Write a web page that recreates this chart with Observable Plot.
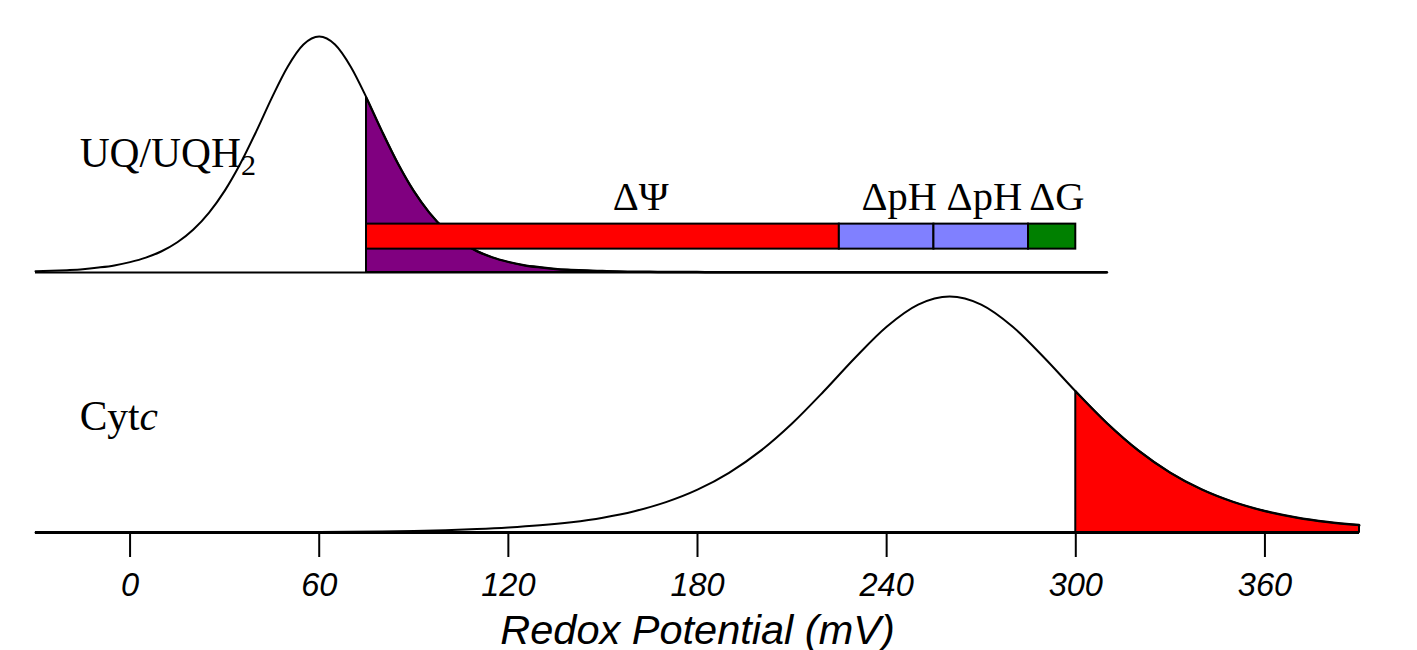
<!DOCTYPE html>
<html>
<head>
<meta charset="utf-8">
<script src="https://cdn.jsdelivr.net/npm/d3@7"></script>
<script src="https://cdn.jsdelivr.net/npm/@observablehq/plot@0.6"></script>
<style>
  html, body { margin: 0; padding: 0; background: #ffffff; }
  #chart svg { display: block; overflow: visible; }
</style>
</head>
<body>
<div id="chart"></div>
<script>
// ---- data ----
const panels = ["UQ", "Cyt"];
const panelLabelMain = ["UQ/UQH", "Cyt"];
const panelLabelTail = ["2", "c"];

// UQ/UQH2 redox distribution (relative height), potential in mV
const potentialsUQ = [-30,-25,-20,-15,-10,-5,0,5,10,15,20,25,30,35,40,45,50,55,60,65,70,75,80,85,90,95,100,105,110,115,120,125,130,135,140,145,150,155,160,165,170,175,180,185,190,200,220,240,260,280,300,310];
const fractionUQ   = [0.005,0.007,0.010,0.014,0.021,0.030,0.044,0.063,0.090,0.128,0.181,0.253,0.346,0.462,0.597,0.741,0.872,0.966,1.000,0.966,0.872,0.741,0.597,0.462,0.346,0.253,0.181,0.128,0.090,0.063,0.044,0.030,0.021,0.014,0.010,0.007,0.005,0.003,0.002,0.002,0.001,0.001,0.001,0,0,0,0,0,0,0,0,0];

// Cyt c redox distribution
const potentialsCyt = [-30,-20,-10,0,10,20,30,40,50,60,70,80,90,100,110,120,130,140,150,160,170,180,190,200,210,220,230,240,250,260,270,280,290,300,310,320,330,340,350,360,370,380,390];
const fractionCyt   = [0,0.0001,0.0002,0.0002,0.0003,0.0005,0.0007,0.0011,0.0015,0.0022,0.0032,0.0047,0.0068,0.0099,0.0144,0.0209,0.0303,0.0437,0.0629,0.0902,0.1285,0.1813,0.2527,0.3458,0.4619,0.5973,0.7406,0.8719,0.9657,1.000,0.9657,0.8719,0.7406,0.5973,0.4619,0.3458,0.2527,0.1813,0.1285,0.0902,0.0629,0.0437,0.0303];

// shaded tails start (mV) and baseline extents (mV)
const shadeFrom = [75, 300];
const baselineStart = [-30, -30];
const baselineEnd = [310, 390];

// energy bar segments (mV)
const segmentNames = ["ΔΨ", "ΔpH", "ΔpH", "ΔG"];
const segmentStart = [75, 225, 255, 285];
const segmentEnd   = [225, 255, 285, 300];
const segmentLabelAt = [162, 244, 271, 294];

const xTicks = [0, 60, 120, 180, 240, 300, 360];
const xTitle = "Redox Potential (mV)";

// ---- styles ----
const shadeColors = ["#800080", "#ff0000"];
const segmentColors = ["#ff0000", "#8080ff", "#8080ff", "#008000"];
const panelLabelY = [0.449, 0.434];
const barY1 = 0.099, barY2 = 0.205, barLabelY = 0.266;

// ---- tables ----
const curves = [
  ...potentialsUQ.map((x, i) => ({panel: "UQ", x, y: fractionUQ[i]})),
  ...potentialsCyt.map((x, i) => ({panel: "Cyt", x, y: fractionCyt[i]}))
];
const shades = panels.map((p, i) => curves.filter(d => d.panel === p && d.x >= shadeFrom[i]));
const baselines = panels.map((p, i) => ({panel: p, x1: baselineStart[i], x2: baselineEnd[i], w: i === 0 ? 2 : 3}));
const segments = segmentNames.map((name, i) => ({panel: "UQ", name, x1: segmentStart[i], x2: segmentEnd[i], at: segmentLabelAt[i], color: segmentColors[i]}));
const panelLabels = panels.map((p, i) => ({panel: p, text: panelLabelMain[i], y: panelLabelY[i]}));

const serif = "'Liberation Serif', 'Times New Roman', serif";
const sans = "'Liberation Sans', Arial, sans-serif";

const chart = Plot.plot({
  width: 1417,
  height: 650,
  marginTop: 36,
  marginBottom: 118,
  marginLeft: 35,
  marginRight: 58,
  x: {domain: [-30, 390]},
  y: {domain: [0, 1], axis: null},
  fy: {domain: panels, axis: null, paddingInner: 0.0923, paddingOuter: 0, round: false, label: null},
  color: {type: "identity"},
  marks: [
    Plot.areaY(shades[0], {x: "x", y: "y", fy: "panel", fill: shadeColors[0], stroke: "black", strokeWidth: 2, curve: "monotone-x"}),
    Plot.areaY(shades[1], {x: "x", y: "y", fy: "panel", fill: shadeColors[1], stroke: "black", strokeWidth: 2, curve: "monotone-x"}),
    Plot.line(curves, {x: "x", y: "y", z: "panel", fy: "panel", stroke: "black", strokeWidth: 2, curve: "monotone-x"}),
    Plot.ruleY(baselines, {y: 0, x1: "x1", x2: "x2", fy: "panel", stroke: "black", strokeWidth: "w"}),
    Plot.rectX(segments, {x1: "x1", x2: "x2", y1: barY1, y2: barY2, fy: "panel", fill: "color", stroke: "black", strokeWidth: 2}),
    Plot.text(segments, {x: "at", y: barLabelY, text: "name", fy: "panel", lineAnchor: "bottom", fontSize: 40.5, fontFamily: serif, fill: "black"}),
    Plot.text(panelLabels, {x: -16, y: "y", text: "text", fy: "panel", textAnchor: "start", lineAnchor: "bottom", fontSize: 41.5, fontFamily: serif, fill: "black"}),
    Plot.axisX({ticks: xTicks, tickSize: 25, tickPadding: 15, strokeWidth: 2, fontSize: 32.5, fontStyle: "italic", fontFamily: sans, label: null}),
    Plot.text([xTitle], {text: d => d, fy: ["Cyt"], frameAnchor: "bottom", dy: 111, lineAnchor: "bottom", fontSize: 41.5, fontStyle: "italic", fontFamily: sans, fill: "black"})
  ]
});

document.getElementById("chart").appendChild(chart);

// subscript 2 and italic c in the panel labels
d3.select(chart).selectAll("text").each(function () {
  const t = d3.select(this);
  if (!t.select("tspan").empty()) return;
  const i = panelLabelMain.indexOf(t.text());
  if (i === 0) {
    t.append("tspan").attr("dy", 8).attr("font-size", 30).text(panelLabelTail[i]);
  } else if (i === 1) {
    t.append("tspan").attr("font-style", "italic").text(panelLabelTail[i]);
  }
});
</script>
</body>
</html>
